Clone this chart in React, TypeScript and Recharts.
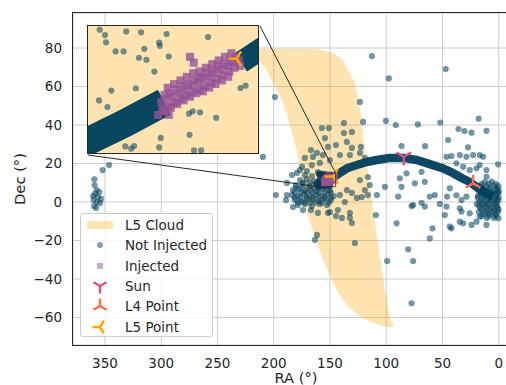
import type { ReactNode } from 'react'

import {
  CartesianGrid,
  ComposedChart,
  Legend,
  Line,
  ReferenceArea,
  ReferenceLine,
  Scatter,
  XAxis,
  YAxis
} from 'recharts'

type Pair = [number, number]

const FONT = '"DejaVu Sans", sans-serif'
const INK = '#262626'
const GRID = '#cccccc'
const NOT_INJECTED_COLOR = '#003f5c'
const INJECTED_COLOR = '#955196'
const SUN_COLOR = '#dd5182'
const L4_COLOR = '#ff6e54'
const L5_COLOR = '#ffa600'

/** Main axes box in page pixels (the figure is cropped on the right). */
const CHART_W = 520
const CHART_H = 385
const PLOT = { left: 73, top: 13, width: 446, height: 332 }
const INSET = { left: 88, top: 26, width: 172, height: 129 }

const RA_DOMAIN: Pair = [-18, 378.4]
const DEC_DOMAIN: Pair = [-74.3, 98.2]
const RA_TICKS = [0, 50, 100, 150, 200, 250, 300, 350]
const DEC_TICKS = [-60, -40, -20, 0, 20, 40, 60, 80]

/** Region shown in the zoomed inset. */
const ZOOM_RA: Pair = [145, 161]
const ZOOM_DEC: Pair = [8, 15]

const LEGEND_LABELS = ['L5 Cloud', 'Not Injected', 'Injected', 'Sun', 'L4 Point', 'L5 Point']

// [RA, Dec] in degrees
const L5_CLOUD: Pair[] = [
  [235, 79.6], [200, 79.6], [176.7, 79.6], [160, 79.4], [147.3, 77.4], [140, 74.5],
  [134.9, 70.1], [127.8, 61.8], [124.2, 52], [121.6, 42.6], [120.3, 32.2], [117.5, 22],
  [115, 10], [112.6, 0], [110, -10.9], [105.5, -28.6], [101.1, -45.7], [96.6, -59.7],
  [93.1, -64.8], [99.3, -65.1], [111.5, -63], [123.3, -59.6], [133.7, -54.4], [142.6, -47.4],
  [149.8, -38.8], [157.2, -28.4], [164.6, -16.3], [170.7, -5.9], [174, 3], [176.6, 18.2],
  [180, 28], [183.8, 35.9], [188, 45], [192.7, 53], [200.7, 61.8], [207.8, 70.1],
  [220, 76.5], [235, 79.6]
]

const NOT_INJECTED: Pair[] = [
  // open field
  [112.8, 75.8], [47.1, 69.1], [97.7, 64.2], [198.9, 54.5], [123.4, 52.0], [100.3, 42.1],
  [91.5, 40.0], [71.9, 40.3], [51.9, 41.3], [17.8, 43.3], [35.8, 37.9], [30.5, 36.9],
  [24.2, 36.0], [10.9, 37.0], [120.5, 41.6], [209.6, 23.4],
  // around the RA~165 clump
  [157.2, 38.4], [151.0, 38.4], [137.6, 41.0], [137.6, 35.8], [130.5, 36.4], [154.5, 33.2],
  [144.7, 29.6], [135.0, 31.2], [130.5, 28.1], [122.5, 28.6], [141.2, 24.4], [132.3, 24.4],
  [123.4, 25.5], [119.0, 22.9], [150.1, 21.8], [159.0, 20.3], [166.1, 19.2], [156.3, 24.4],
  [165.2, 23.4], [172.3, 22.9], [166.9, 27.0], [161.6, 25.5], [151.8, 28.6],
  [170.5, 16.1], [176.7, 16.6], [183.8, 14.0], [174.9, 18.2], [179.4, 15.1], [116.3, 13.0],
  [123.4, 11.4], [188.3, 9.9], [172.2, 14.0], [166.0, 13.5], [160.7, 15.6],
  [135.0, 6.2], [130.5, 4.7], [126.1, 2.1], [121.7, 2.6], [136.8, 0.0], [143.0, -4.2],
  [150.1, -5.2], [132.3, -5.7], [139.4, -8.3], [114.6, 8.8], [119.0, 6.2], [141.2, 3.6],
  [116.3, 3.6], [108.3, 3.6], [109.2, -6.8], [130.5, -10.9], [144.7, -7.3], [132.3, -8.3],
  [198.0, 3.6], [188.3, 3.6], [189.1, 1.0], [182.9, -2.6], [174.0, -4.2], [166.9, -4.2],
  [160.7, -5.7], [151.8, -5.7], [161.6, -17.1], [163.4, -19.7], [127.9, -21.3],
  // clump core
  [176.7, 11.4], [170.5, 11.9], [164.3, 10.9],
  [174.2, 10.1], [168.0, 10.1], [161.8, 10.1],
  [180.3, 8.8], [174.0, 9.4], [167.8, 8.3], [161.6, 8.8],
  [180.4, 7.5], [175.1, 7.5], [169.8, 7.5], [164.4, 7.5], [159.1, 7.5], [153.0, 7.5],
  [182.9, 6.2], [177.6, 6.8], [172.3, 5.7], [166.9, 6.2], [161.6, 5.7], [156.3, 6.8], [150.1, 6.2],
  [181.3, 4.9], [176.0, 4.9], [170.6, 4.9], [165.3, 4.9], [160.0, 4.9], [154.7, 4.9], [149.3, 4.9],
  [183.8, 3.6], [178.5, 3.1], [173.2, 4.2], [167.8, 3.1], [162.5, 3.6], [157.2, 3.1], [151.8, 4.2],
  [146.5, 3.1],
  [181.3, 2.3], [176.0, 2.3], [170.6, 2.3], [165.3, 2.3], [160.0, 2.3], [154.7, 2.3], [149.3, 2.3],
  [181.2, 1.0], [175.8, 0.5], [170.5, 1.6], [165.2, 1.0], [159.8, 0.5], [154.5, 1.6], [149.2, 1.0],
  [178.6, -0.3], [173.3, -0.3], [167.8, -0.3], [162.5, -0.3], [157.2, -0.3], [151.0, -0.3],
  [178.5, -1.6], [172.3, -1.0], [166.1, -2.1], [159.0, -1.0], [152.7, -1.6],
  // RA~358 streak
  [346.3, 19.2], [352.1, 16.6], [359.4, 11.8], [359.2, 8.8], [357.4, 6.2], [358.8, 4.2],
  [356.1, 2.6], [360.1, 1.0], [357.0, 0.0], [354.3, -0.5], [359.6, -2.1], [357.9, -3.1],
  [353.4, 1.6], [360.5, 3.1], [355.1, 5.2],
  // right half field
  [86.4, 29.1], [65.5, 29.0], [45.0, 32.2], [27.3, 28.4],
  [46.4, 23.5], [42.0, 23.9], [34.6, 24.4], [28.7, 23.5], [22.8, 24.4], [16.9, 24.4], [13.9, 23.5],
  [37.6, 20.1], [31.7, 18.3], [25.8, 16.6], [19.8, 17.5], [16.9, 19.2], [10.9, 16.6], [10.9, 13.1],
  [0.6, 19.6], [82.0, 14.9], [68.6, 15.7], [87.9, 12.3], [86.4, 7.9], [74.6, 9.7], [65.7, 10.5],
  [101.2, 7.9], [46.0, 2.8], [56.8, 3.6], [43.5, 7.1], [37.6, 3.5], [33.1, 1.0], [76.1, -1.6],
  [68.6, -0.4], [46.4, -2.4], [34.6, -3.3], [25.8, -5.9], [10.9, -11.9], [58.9, -13.7],
  [90.8, -11.1], [99.2, -30.7], [76.1, -30.7], [80.5, -24.6], [77.5, -52.6], [77.5, -2.1],
  [65.7, -2.4], [61.3, 2.8], [52.4, -1.0], [48.0, -6.8], [61.3, -18.9], [43.5, -12.8],
  [42.0, -13.7], [34.6, -10.2], [31.7, -11.1], [24.2, -11.9], [19.8, -10.2], [33.1, -5.0],
  [16.9, -7.6], [28.7, 2.8], [89.4, 2.8],
  // RA~5 clump
  [12.4, 10.4], [6.2, 10.6],
  [15.1, 9.4], [8.9, 9.4], [2.7, 9.4],
  [16.9, 8.3], [10.7, 8.1], [4.4, 8.4], [0.2, 8.2],
  [14.2, 7.3], [8.0, 7.3], [1.8, 7.3],
  [18.6, 6.2], [13.3, 6.4], [8.0, 6.1], [2.7, 6.3], [0.3, 5.9],
  [16.0, 5.2], [10.7, 5.2], [5.3, 5.2], [0.1, 5.2],
  [16.0, 4.2], [10.7, 4.0], [5.3, 4.3], [0.9, 4.1],
  [18.6, 3.1], [13.3, 3.1], [8.0, 3.1], [2.7, 3.1],
  [18.6, 2.1], [13.3, 2.2], [8.0, 1.9], [2.7, 2.1], [0.1, 2.3],
  [15.1, 1.0], [9.8, 1.0], [4.4, 1.0], [0.2, 1.0],
  [16.9, 0.0], [11.5, -0.1], [6.2, 0.2], [1.8, -0.2],
  [19.5, -1.0], [14.2, -1.0], [8.9, -1.0], [3.6, -1.0],
  [17.8, -2.1], [12.4, -2.0], [7.1, -2.2], [1.8, -1.9],
  [16.0, -3.1], [10.7, -3.1], [5.3, -3.1], [0.9, -3.1],
  [15.1, -4.2], [9.8, -4.1], [4.4, -4.3], [0.2, -4.0],
  [17.8, -5.2], [11.5, -5.2], [6.2, -5.2], [0.9, -5.2],
  [13.3, -6.2], [8.0, -6.3], [2.7, -6.1],
  [15.1, -7.3], [8.9, -7.3], [2.7, -7.3],
  [10.7, -8.3], [4.4, -8.2], [0.3, -8.4],
  // inside the zoom box
  [159.9, 14.8], [159.4, 14.5], [159.3, 14.1], [157.4, 14.7], [156.0, 14.65], [153.6, 14.56],
  [154.3, 14.08], [154.24, 13.91], [155.7, 13.74], [153.4, 13.32], [156.2, 13.25], [155.5, 13.14],
  [158.4, 13.6], [157.65, 13.6], [154.75, 12.49], [149.7, 14.39], [158.8, 11.44], [156.5, 11.57],
  [159.96, 10.9], [159.17, 10.53], [151.5, 10.17], [151.14, 10.3], [150.46, 10.24], [148.94, 9.94],
  [146.65, 11.58], [146.17, 11.71], [154.15, 8.83], [151.44, 9.0], [151.02, 8.14], [150.35, 8.15],
  [156.66, 8.38], [156.94, 8.24], [157.49, 8.36], [154.3, 8.31]
]

/** Dense not-injected track, drawn as a thick band (too many points to list). */
const TRACK_BEFORE: Pair[] = [[163.5, 7.9], [161, 8.65], [157.56, 9.63], [153.8, 10.8]]
const TRACK_AFTER: Pair[] = [
  [146.6, 13.0], [141.2, 15.1], [134.1, 17.7], [126.1, 19.2], [117.3, 20.8], [108.4, 21.8],
  [96.8, 22.9], [84.4, 22.9], [72.8, 21.8], [61.3, 19.7], [50.6, 17.7], [40.9, 15.1],
  [32.9, 12.5], [25.8, 10.4], [19.5, 7.8], [14.2, 5.7], [5.3, 2.6]
]

const INJECTED: Pair[] = [
  [154.1, 10.8], [153.6, 11.0], [153.0, 11.1], [152.4, 11.3], [151.9, 11.5], [151.3, 11.7],
  [150.7, 11.9], [150.2, 12.1], [149.6, 12.2], [149.1, 12.4], [148.5, 12.6], [147.9, 12.8],
  [147.4, 13.0], [146.8, 13.1],
  [153.8, 11.2], [153.3, 11.3], [152.7, 11.5], [152.1, 11.7], [151.6, 11.8], [151.0, 12.0],
  [150.4, 12.2], [149.9, 12.4], [149.3, 12.6], [148.8, 12.8], [148.2, 12.9], [147.6, 13.1],
  [147.1, 13.3],
  [154.0, 10.4], [153.4, 10.6], [152.8, 10.8], [152.2, 11.0], [151.7, 11.2], [151.1, 11.4],
  [150.5, 11.5], [150.0, 11.7], [149.4, 11.9], [148.8, 12.1], [148.3, 12.3], [147.7, 12.5],
  [147.2, 12.7], [146.7, 12.8],
  [153.5, 11.6], [152.9, 11.8], [152.3, 12.0], [151.7, 12.2], [151.1, 12.4], [150.5, 12.5],
  [149.9, 12.7], [149.3, 12.9], [148.7, 13.1], [148.1, 13.3], [147.5, 13.5],
  [154.4, 10.1], [153.8, 10.3], [153.2, 10.5], [152.6, 10.7], [152.0, 10.9], [151.4, 11.1],
  [150.8, 11.3], [150.2, 11.4], [149.6, 11.6], [149.0, 11.8], [148.4, 12.0], [147.8, 12.2],
  [151.4, 13.3], [151.05, 12.98], [153.4, 10.1]
]

const SUN: Pair[] = [[84.4, 23.5]]
const L4_POINT: Pair[] = [[22.8, 9.7]]
const L5_POINT: Pair[] = [[147.0, 13.2]]

const toRows = (pairs: Pair[]) => pairs.map(([ra, dec]) => ({ ra, dec }))

const cloudRows = toRows(L5_CLOUD)
const notInjectedRows = toRows(NOT_INJECTED)
const trackBeforeRows = toRows(TRACK_BEFORE)
const trackAfterRows = toRows(TRACK_AFTER)
const injectedRows = toRows(INJECTED)

/** Inverse of the main axes scales, used to anchor the inset connectors. */
const pxToRa = (x: number) =>
  RA_DOMAIN[1] - ((x - PLOT.left) / PLOT.width) * (RA_DOMAIN[1] - RA_DOMAIN[0])
const pxToDec = (y: number) =>
  DEC_DOMAIN[1] - ((y - PLOT.top) / PLOT.height) * (DEC_DOMAIN[1] - DEC_DOMAIN[0])

type TriKind = 'down' | 'up' | 'left'

const TRI_ANGLES: Record<TriKind, number[]> = {
  down: [90, 210, 330],
  up: [270, 30, 150],
  left: [180, 60, 300]
}

function triPath(kind: TriKind, cx: number, cy: number, r: number) {
  return TRI_ANGLES[kind]
    .map((deg) => {
      const a = (deg * Math.PI) / 180
      return `M${cx},${cy}L${cx + r * Math.cos(a)},${cy + r * Math.sin(a)}`
    })
    .join('')
}

const noShape = () => <g />

const dotShape = (p: any) => (
  <circle cx={p.cx} cy={p.cy} r={3.1} fill={NOT_INJECTED_COLOR} fillOpacity={0.55} />
)

const squareShape = (p: any) => (
  <rect x={p.cx - 4} y={p.cy - 4} width={8} height={8} fill={INJECTED_COLOR} fillOpacity={0.8} />
)

const triShape = (kind: TriKind, color: string) => (p: any) => (
  <path d={triPath(kind, p.cx, p.cy, 8.5)} stroke={color} strokeWidth={2.5} fill='none' />
)

const minus = (v: number) => String(v).replace('-', '\u2212')

const TICK_STYLE = { fill: INK, fontSize: 13.5, fontFamily: FONT }

const LEGEND_ICONS: ReactNode[] = [
  <rect key='c' x={0} y={6} width={26} height={8} fill={L5_COLOR} fillOpacity={0.3} />,
  <circle key='n' cx={13} cy={10} r={3} fill={NOT_INJECTED_COLOR} fillOpacity={0.5} />,
  <rect key='i' x={10} y={7} width={6} height={6} fill={INJECTED_COLOR} fillOpacity={0.5} />,
  <path key='s' d={triPath('down', 13, 10, 7.5)} stroke={SUN_COLOR} strokeWidth={2.5} fill='none' />,
  <path key='4' d={triPath('up', 13, 10, 7.5)} stroke={L4_COLOR} strokeWidth={2.5} fill='none' />,
  <path key='5' d={triPath('left', 13, 10, 7.5)} stroke={L5_COLOR} strokeWidth={2.5} fill='none' />
]

function LegendBox() {
  return (
    <div
      style={{
        boxSizing: 'border-box',
        width: 133,
        height: 124,
        padding: '1px 0',
        border: '1px solid #cccccc',
        borderRadius: 3,
        background: 'rgba(255,255,255,0.8)',
        fontFamily: FONT,
        fontSize: 13.5,
        color: INK
      }}
    >
      {LEGEND_LABELS.map((label, i) => (
        <div key={label} style={{ display: 'flex', alignItems: 'center', height: 20.3 }}>
          <svg width={26} height={20} style={{ marginLeft: 6, marginRight: 12, flex: 'none' }}>
            {LEGEND_ICONS[i]}
          </svg>
          <span style={{ whiteSpace: 'nowrap', lineHeight: '20px' }}>{label}</span>
        </div>
      ))}
    </div>
  )
}

function InsetChart() {
  return (
    <ComposedChart width={170} height={127} margin={{ top: 0, right: 0, bottom: 0, left: 0 }}>
      <XAxis dataKey='ra' type='number' domain={ZOOM_RA} reversed allowDataOverflow hide />
      <YAxis dataKey='dec' type='number' domain={ZOOM_DEC} allowDataOverflow hide />
      <Scatter
        data={cloudRows}
        shape={noShape}
        line={{ fill: L5_COLOR, fillOpacity: 0.3, stroke: 'none' }}
        legendType='none'
        isAnimationActive={false}
        zIndex={-50}
      />
      <Line
        data={trackBeforeRows}
        dataKey='dec'
        type='linear'
        stroke={NOT_INJECTED_COLOR}
        strokeOpacity={0.97}
        strokeWidth={28}
        strokeLinecap='butt'
        dot={false}
        legendType='none'
        isAnimationActive={false}
        zIndex={550}
      />
      <Line
        data={trackAfterRows}
        dataKey='dec'
        type='linear'
        stroke={NOT_INJECTED_COLOR}
        strokeOpacity={0.97}
        strokeWidth={22}
        strokeLinecap='butt'
        dot={false}
        legendType='none'
        isAnimationActive={false}
        zIndex={550}
      />
      <Scatter data={notInjectedRows} shape={dotShape} legendType='none' isAnimationActive={false} zIndex={600} />
      <Scatter data={injectedRows} shape={squareShape} legendType='none' isAnimationActive={false} zIndex={700} />
      <Scatter
        data={toRows(L5_POINT)}
        shape={triShape('left', L5_COLOR)}
        legendType='none'
        isAnimationActive={false}
        zIndex={800}
      />
    </ComposedChart>
  )
}

export default function App() {
  const connectorLow = [
    { x: pxToRa(INSET.left), y: pxToDec(INSET.top + INSET.height) },
    { x: ZOOM_RA[1], y: ZOOM_DEC[0] }
  ]
  const connectorHigh = [
    { x: pxToRa(INSET.left + INSET.width), y: pxToDec(INSET.top) },
    { x: ZOOM_RA[0], y: ZOOM_DEC[1] }
  ]

  return (
    <div
      style={{
        position: 'absolute',
        left: 0,
        top: 0,
        width: 506,
        height: 385,
        overflow: 'hidden',
        background: '#ffffff',
        fontFamily: FONT
      }}
    >
      <ComposedChart width={CHART_W} height={CHART_H} margin={{ top: PLOT.top, right: 1, bottom: 0, left: 0 }}>
        <CartesianGrid stroke={GRID} strokeWidth={1} />
        <XAxis
          dataKey='ra'
          type='number'
          domain={RA_DOMAIN}
          ticks={RA_TICKS}
          interval={0}
          reversed
          allowDataOverflow
          height={40}
          axisLine={false}
          tickLine={false}
          tickSize={6}
          tickMargin={7}
          tick={TICK_STYLE}
          label={{
            content: () => (
              <text x={296} y={383} textAnchor='middle' fill={INK} fontSize={14.7} fontFamily={FONT}>
                RA (°)
              </text>
            )
          }}
        />
        <YAxis
          dataKey='dec'
          type='number'
          domain={DEC_DOMAIN}
          ticks={DEC_TICKS}
          interval={0}
          allowDataOverflow
          width={PLOT.left}
          axisLine={false}
          tickLine={false}
          tickSize={6}
          tickMargin={5}
          tick={TICK_STYLE}
          tickFormatter={minus}
          label={{
            content: () => (
              <text
                x={19}
                y={179}
                transform='rotate(-90 19 179)'
                textAnchor='middle'
                dominantBaseline='central'
                fill={INK}
                fontSize={14.7}
                fontFamily={FONT}
              >
                Dec (°)
              </text>
            )
          }}
        />
        <Scatter
          data={cloudRows}
          shape={noShape}
          line={{ fill: L5_COLOR, fillOpacity: 0.3, stroke: 'none' }}
          legendType='none'
          isAnimationActive={false}
          zIndex={-50}
        />
        <Line
          data={trackBeforeRows}
          dataKey='dec'
          type='linear'
          stroke={NOT_INJECTED_COLOR}
          strokeOpacity={0.95}
          strokeWidth={8.5}
          strokeLinejoin='round'
          dot={false}
          legendType='none'
          isAnimationActive={false}
          zIndex={550}
        />
        <Line
          data={trackAfterRows}
          dataKey='dec'
          type='linear'
          stroke={NOT_INJECTED_COLOR}
          strokeOpacity={0.95}
          strokeWidth={8.5}
          strokeLinejoin='round'
          dot={false}
          legendType='none'
          isAnimationActive={false}
          zIndex={550}
        />
        <Scatter data={notInjectedRows} shape={dotShape} legendType='none' isAnimationActive={false} zIndex={600} />
        <Scatter data={injectedRows} shape={squareShape} legendType='none' isAnimationActive={false} zIndex={700} />
        <Scatter
          data={toRows(SUN)}
          shape={triShape('down', SUN_COLOR)}
          legendType='none'
          isAnimationActive={false}
          zIndex={800}
        />
        <Scatter
          data={toRows(L4_POINT)}
          shape={triShape('up', L4_COLOR)}
          legendType='none'
          isAnimationActive={false}
          zIndex={800}
        />
        <Scatter
          data={toRows(L5_POINT)}
          shape={triShape('left', L5_COLOR)}
          legendType='none'
          isAnimationActive={false}
          zIndex={800}
        />
        <ReferenceArea
          x1={ZOOM_RA[0]}
          x2={ZOOM_RA[1]}
          y1={ZOOM_DEC[0]}
          y2={ZOOM_DEC[1]}
          fill='none'
          stroke={INK}
          strokeOpacity={0.8}
          strokeWidth={1}
          ifOverflow='visible'
          zIndex={900}
        />
        <ReferenceLine segment={connectorLow} stroke={INK} strokeWidth={1} ifOverflow='visible' zIndex={900} />
        <ReferenceLine segment={connectorHigh} stroke={INK} strokeWidth={1} ifOverflow='visible' zIndex={900} />
        <Legend
          layout='vertical'
          align='center'
          verticalAlign='middle'
          content={() => <LegendBox />}
          wrapperStyle={{ left: 80, top: 213, width: 133, height: 124 }}
        />
      </ComposedChart>

      {/* axes spines: left, top, bottom (right one is cropped away) */}
      <div
        style={{
          position: 'absolute',
          left: PLOT.left - 0.6,
          top: PLOT.top - 0.6,
          width: PLOT.width,
          height: PLOT.height,
          border: `1.25px solid ${INK}`,
          pointerEvents: 'none'
        }}
      />

      <div
        style={{
          position: 'absolute',
          left: INSET.left - 0.6,
          top: INSET.top - 0.6,
          width: INSET.width - 2,
          height: INSET.height - 2,
          border: `1.25px solid ${INK}`,
          background: '#ffffff',
          overflow: 'hidden'
        }}
      >
        <InsetChart />
      </div>
    </div>
  )
}
